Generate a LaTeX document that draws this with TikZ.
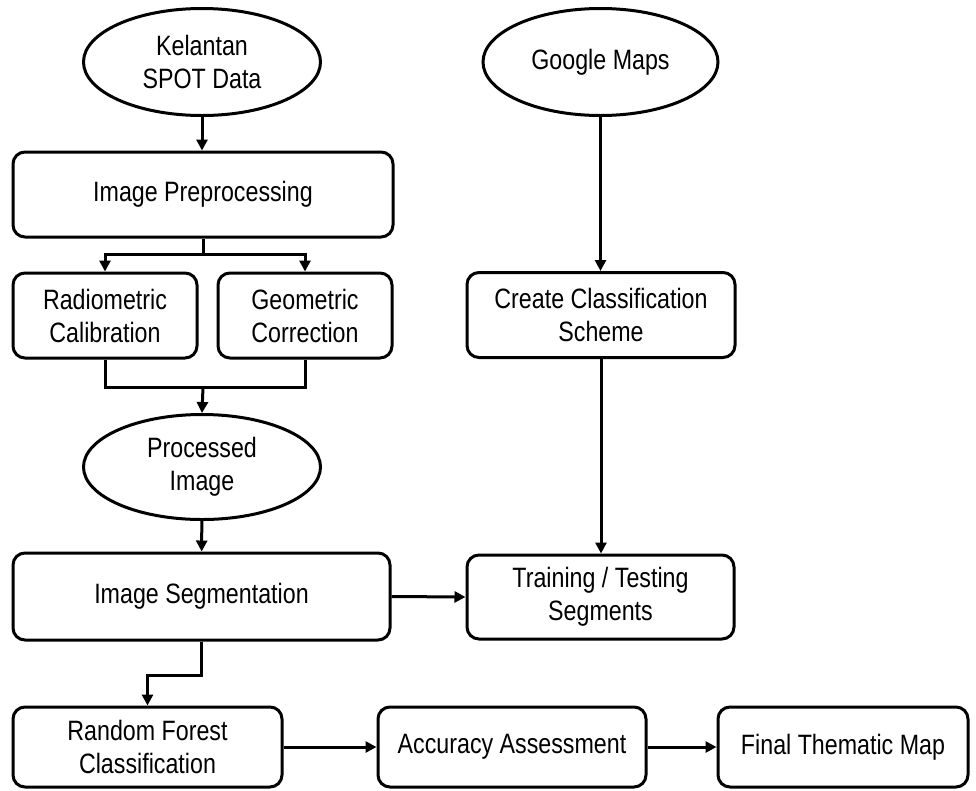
\documentclass[tikz,border=0pt]{standalone}
\usepackage{fontspec}
\setmainfont{Liberation Sans}[FakeStretch=0.83]
\usetikzlibrary{shapes.geometric,arrows.meta}

\tikzset{
  box/.style={rectangle,draw,rounded corners=12pt,line width=3pt,align=center,inner sep=2pt},
  oval/.style={ellipse,draw,line width=3pt,align=center,minimum width=237pt,minimum height=107pt,inner sep=0pt},
  flow/.style={line width=3pt,-{Triangle[length=11pt,width=11pt]}},
  plain/.style={line width=3pt}
}

\begin{document}
\begin{tikzpicture}[x=1pt,y=-1pt,font=\fontsize{28}{33}\selectfont]
\useasboundingbox (0,0) rectangle (976,790);
% left column
\draw (202,62) node[oval] (kel) {Kelantan\\SPOT Data};
\draw (203,194.5) node[box,minimum width=380pt,minimum height=85pt] (pre) {Image Preprocessing};
\draw (105,315.5) node[box,minimum width=184pt,minimum height=85pt] (rad) {Radiometric\\Calibration};
\draw (305,315.5) node[box,minimum width=174pt,minimum height=85pt] (geo) {Geometric\\Correction};
\draw (202,467) node[oval,minimum height=105pt] (proc) {Processed\\Image};
\draw (201.5,596.5) node[box,minimum width=377pt,minimum height=87pt] (seg) {Image Segmentation};
% right column
\draw (600.5,62) node[oval,minimum width=235pt] (gmap) {Google Maps};
\draw (601,315) node[box,minimum width=268pt,minimum height=85pt] (cre) {Create Classification\\Scheme};
\draw (600.5,597) node[box,minimum width=267pt,minimum height=84pt] (train) {Training / Testing\\Segments};
% bottom row
\draw (147.5,747) node[box,minimum width=269pt,minimum height=80pt] (rf) {Random Forest\\Classification};
\draw (512,747) node[box,minimum width=268pt,minimum height=80pt] (acc) {Accuracy Assessment};
\draw (843,747) node[box,minimum width=250pt,minimum height=80pt] (fin) {Final Thematic Map};

\coordinate (split) at (203,254);
\coordinate (join) at (203,387);

\draw[flow] (kel.south) -- (kel.south |- pre.north);
\draw[plain] (pre.south) -- (split);
\draw[flow] (split) -| (rad.north);
\draw[flow] (split) -| (geo.north);
\draw[plain] (rad.south) |- (join);
\draw[plain] (geo.south) |- (join);
\draw[flow] (join) -- (proc.north);
\path[flow] (proc) edge (seg);
\draw[flow] (seg.east) -- (train.west);
\draw[flow] (seg.south) -- ++(0,34) -| (rf.north);
\draw[flow] (gmap.south) -- (gmap.south |- cre.north);
\draw[flow] (cre.south) -- (cre.south |- train.north);
\draw[flow] (rf.east) -- (acc.west);
\draw[flow] (acc.east) -- (fin.west);
\end{tikzpicture}
\end{document}
